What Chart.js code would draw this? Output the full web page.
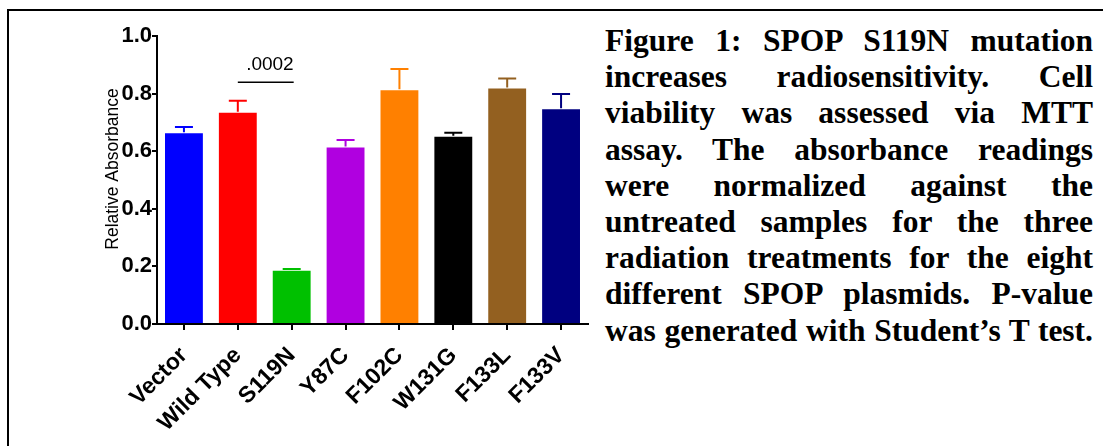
<!DOCTYPE html>
<html>
<head>
<meta charset="utf-8">
<script src="https://cdn.jsdelivr.net/npm/chart.js@4.4.0/dist/chart.umd.min.js"></script>
<style>
  body { margin: 0; background: #fff; width: 1103px; height: 446px; overflow: hidden; position: relative; }
  #frame { position: absolute; left: 7px; top: 9px; width: 1100px; height: 445px;
           border-top: 2px solid #000; border-left: 2px solid #000; }
  #chartBox { position: absolute; left: 0; top: 0; width: 600px; height: 446px; }
  #caption { position: absolute; left: 605px; top: 23px; width: 488px;
             font-family: 'Liberation Serif', 'Times New Roman', serif; font-weight: bold;
             font-size: 31.5px; line-height: 36.2px; color: #000; }
  #caption div { text-align: justify; text-align-last: justify; }
</style>
</head>
<body>
<div id="frame"></div>
<div id="chartBox"><canvas id="absorbChart" width="600" height="446"></canvas></div>
<div id="caption">
  <div>Figure 1: SPOP S119N mutation</div>
  <div>increases radiosensitivity. Cell</div>
  <div>viability was assessed via MTT</div>
  <div>assay. The absorbance readings</div>
  <div>were normalized against the</div>
  <div>untreated samples for the three</div>
  <div>radiation treatments for the eight</div>
  <div>different SPOP plasmids. P-value</div>
  <div>was generated with Student’s T test.</div>
</div>
<script>
const categories = ['Vector', 'Wild Type', 'S119N', 'Y87C', 'F102C', 'W131G', 'F133L', 'F133V'];
const absorbance = [0.666, 0.737, 0.188, 0.616, 0.815, 0.654, 0.821, 0.749];
const sem = [0.018, 0.038, 0.003, 0.023, 0.070, 0.010, 0.031, 0.050];
const barColors = ['#0000FF', '#FF0000', '#00C000', '#B000E0', '#FF8000', '#000000', '#936020', '#000080'];
const yTicks = [0, 0.2, 0.4, 0.6, 0.8, 1.0];
const yTitleText = 'Relative Absorbance';

// significance bracket between Wild Type and S119N
const pLabel = '.0002';
const pPair = [1, 2];
const pLevel = 0.839;

Chart.defaults.color = '#000';
Chart.defaults.font.family = "Arial, 'Liberation Sans', sans-serif";

// error bars (mean + SEM, upper half only)
const errorBars = {
  id: 'errorBars',
  afterDatasetsDraw(chart) {
    const ctx = chart.ctx;
    const y = chart.scales.y;
    const bars = chart.getDatasetMeta(0).data;
    ctx.save();
    ctx.lineWidth = 2;
    bars.forEach(function(bar, i) {
      const top = y.getPixelForValue(absorbance[i] + sem[i]);
      ctx.strokeStyle = barColors[i];
      ctx.beginPath();
      ctx.moveTo(bar.x, bar.y);
      ctx.lineTo(bar.x, top);
      ctx.moveTo(bar.x - 9, top);
      ctx.lineTo(bar.x + 9, top);
      ctx.stroke();
    });
    ctx.restore();
  }
};

const pBracket = {
  id: 'pBracket',
  afterDatasetsDraw(chart) {
    const ctx = chart.ctx;
    const bars = chart.getDatasetMeta(0).data;
    const x1 = bars[pPair[0]].x;
    const x2 = bars[pPair[1]].x;
    const yy = chart.scales.y.getPixelForValue(pLevel);
    ctx.save();
    ctx.strokeStyle = '#000';
    ctx.lineWidth = 1.5;
    ctx.beginPath();
    ctx.moveTo(x1, yy);
    ctx.lineTo(x2 + 2, yy);
    ctx.stroke();
    ctx.fillStyle = '#000';
    ctx.font = "19px Arial, 'Liberation Sans', sans-serif";
    ctx.textAlign = 'right';
    ctx.textBaseline = 'alphabetic';
    ctx.fillText(pLabel, x2 + 2, yy - 12);
    ctx.restore();
  }
};

// y title sits a bit above the axis middle in the original
const yTitle = {
  id: 'yTitle',
  afterDraw(chart) {
    const ctx = chart.ctx;
    const y = chart.scales.y;
    ctx.save();
    ctx.translate(y.left + 113, (y.top + y.bottom) / 2 - 11);
    ctx.rotate(-Math.PI / 2);
    ctx.fillStyle = '#000';
    ctx.font = "17.5px Arial, 'Liberation Sans', sans-serif";
    ctx.textAlign = 'center';
    ctx.textBaseline = 'middle';
    ctx.fillText(yTitleText, 0, 0);
    ctx.restore();
  }
};

const ctx = document.getElementById('absorbChart').getContext('2d');
const chart = new Chart(ctx, {
  type: 'bar',
  data: {
    labels: categories,
    datasets: [{
      data: absorbance,
      backgroundColor: barColors,
      borderColor: 'rgba(255,255,255,0.35)',
      borderWidth: 1,
      barPercentage: 0.74,
      categoryPercentage: 1
    }]
  },
  options: {
    responsive: false,
    animation: false,
    devicePixelRatio: 1,
    layout: { padding: { top: 36, right: 12, left: 0, bottom: 0 } },
    plugins: { legend: { display: false }, tooltip: { enabled: false } },
    scales: {
      x: {
        grid: { display: true, drawOnChartArea: false, offset: false, drawTicks: true,
                tickLength: 6, color: '#000', lineWidth: 2 },
        border: { display: true, color: '#000', width: 2 },
        ticks: { minRotation: 45, maxRotation: 45, padding: 12, color: '#000',
                 font: { size: 23, weight: 'bold' } },
        afterFit(scale) { scale.height = 122; }
      },
      y: {
        min: 0,
        max: 1,
        afterBuildTicks(scale) { scale.ticks = yTicks.map(v => ({ value: v })); },
        grid: { display: true, drawOnChartArea: false, drawTicks: true,
                tickLength: 5, color: '#000', lineWidth: 2 },
        border: { display: true, color: '#000', width: 2 },
        ticks: { padding: 0, color: '#000', font: { size: 22, weight: 'bold' },
                 callback: v => Number(v).toFixed(1) },
        afterFit(scale) { scale.width = 157; }
      }
    }
  },
  plugins: [errorBars, pBracket, yTitle]
});
</script>
</body>
</html>
